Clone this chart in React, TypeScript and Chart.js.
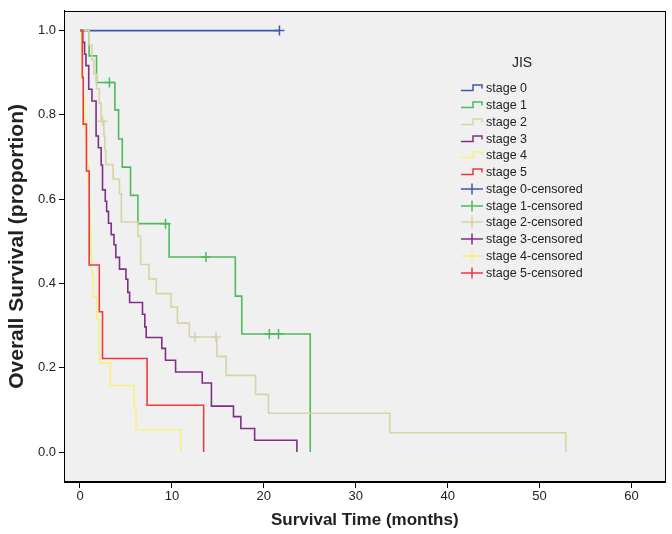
import React, { useEffect, useRef } from "react";
import { Chart, registerables } from "chart.js";

Chart.register(...registerables);

// ---------- data ----------
const xTickValues = [0, 10, 20, 30, 40, 50, 60];
const yTickValues = [0, 0.2, 0.4, 0.6, 0.8, 1.0];

const stageLabels = ["stage 0", "stage 1", "stage 2", "stage 3", "stage 4", "stage 5"];
const stageColors = ["#3e58ac", "#4dbb5c", "#d7d3a5", "#7f2f85", "#f6f17e", "#ee3a3d"];

const stage0Time = [0, 21.7];
const stage0Surv = [1, 1];
const stage0CensorTime = [21.7];
const stage0CensorSurv = [1];

const stage1Time = [0, 1.0, 1.8, 3.8, 4.2, 4.6, 5.5, 6.3, 9.7, 16.9, 17.6, 25.05];
const stage1Surv = [1, 0.94, 0.877, 0.812, 0.743, 0.676, 0.609, 0.542, 0.463, 0.37, 0.28, 0];
const stage1CensorTime = [3.2, 9.3, 13.7, 20.6, 21.6];
const stage1CensorSurv = [0.877, 0.542, 0.463, 0.28, 0.28];

const stage2Time = [0, 1.0, 1.3, 1.5, 1.8, 2.1, 2.3, 2.6, 2.7, 2.8, 3.6, 4.3, 4.5, 6.3, 6.6, 7.5, 8.3, 9.9, 10.6, 11.9, 14.9, 15.9, 19.1, 20.5, 33.7, 52.85];
const stage2Surv = [1, 0.966, 0.931, 0.897, 0.862, 0.828, 0.785, 0.75, 0.716, 0.682, 0.648, 0.613, 0.546, 0.512, 0.445, 0.411, 0.376, 0.344, 0.306, 0.273, 0.227, 0.182, 0.137, 0.092, 0.046, 0];
const stage2CensorTime = [2.45, 12.5, 14.8];
const stage2CensorSurv = [0.785, 0.273, 0.273];

const stage3Time = [0, 0.3, 0.5, 0.65, 0.95, 1.3, 1.75, 2.0, 2.3, 2.45, 2.75, 2.9, 3.1, 3.4, 3.7, 3.9, 4.3, 5.0, 5.2, 5.4, 6.8, 7.05, 7.2, 8.9, 9.3, 10.4, 13.3, 14.3, 16.7, 17.5, 19.0, 23.6];
const stage3Surv = [1, 0.972, 0.944, 0.917, 0.861, 0.833, 0.75, 0.722, 0.681, 0.622, 0.595, 0.571, 0.543, 0.516, 0.492, 0.462, 0.434, 0.41, 0.379, 0.355, 0.327, 0.297, 0.272, 0.246, 0.218, 0.19, 0.164, 0.109, 0.084, 0.056, 0.028, 0];

const stage4Time = [0, 0.15, 0.25, 0.35, 0.5, 0.6, 0.75, 0.9, 1.0, 1.1, 1.2, 1.3, 1.45, 1.8, 2.1, 3.3, 5.9, 6.1, 11.0];
const stage4Surv = [1, 0.947, 0.895, 0.842, 0.789, 0.737, 0.684, 0.632, 0.579, 0.526, 0.474, 0.421, 0.368, 0.316, 0.211, 0.158, 0.105, 0.053, 0];

const stage5Time = [0, 0.25, 0.35, 0.7, 1.0, 2.1, 2.45, 7.3, 13.45];
const stage5Surv = [1, 0.889, 0.778, 0.667, 0.444, 0.333, 0.222, 0.111, 0];

const xTitle = "Survival Time (months)";
const yTitle = "Overall Survival (proportion)";
const legendTitle = "JIS";

// ---------- helpers ----------
const toPoints = (t: number[], s: number[]) => t.map((x, i) => ({ x, y: s[i] }));

const curves = [
  [stage0Time, stage0Surv],
  [stage1Time, stage1Surv],
  [stage2Time, stage2Surv],
  [stage3Time, stage3Surv],
  [stage4Time, stage4Surv],
  [stage5Time, stage5Surv],
];
const censors = [
  [stage0CensorTime, stage0CensorSurv],
  [stage1CensorTime, stage1CensorSurv],
  [stage2CensorTime, stage2CensorSurv],
  [[], []],
  [[], []],
  [[], []],
];

const SANS = '"Liberation Sans", Arial, sans-serif';

const framePlugin = {
  id: "frame",
  beforeDraw(chart: any) {
    const { ctx, chartArea } = chart;
    ctx.save();
    ctx.fillStyle = "#ffffff";
    ctx.fillRect(0, 0, chart.width, chart.height);
    ctx.fillStyle = "#f0f0f0";
    ctx.fillRect(chartArea.left, chartArea.top, chartArea.right - chartArea.left, chartArea.bottom - chartArea.top);
    ctx.restore();
  },
  afterDraw(chart: any) {
    const { ctx, chartArea } = chart;
    ctx.save();
    ctx.strokeStyle = "#000";
    ctx.lineWidth = 1;
    ctx.strokeRect(
      Math.round(chartArea.left) + 0.5,
      Math.round(chartArea.top) + 0.5,
      Math.round(chartArea.right - chartArea.left) - 1,
      Math.round(chartArea.bottom - chartArea.top) - 1
    );
    ctx.restore();
  },
};

function StageIcon({ color, censored }: { color: string; censored: boolean }) {
  return (
    <svg width={24} height={12} style={{ display: "block" }}>
      {censored ? (
        <g stroke={color} strokeWidth={1.5} fill="none">
          <line x1={1} y1={6} x2={23} y2={6} />
          <line x1={12} y1={0.5} x2={12} y2={11.5} />
        </g>
      ) : (
        <polyline points="1,8.5 13,8.5 13,3 22,3 22,6.5" stroke={color} strokeWidth={1.5} fill="none" />
      )}
    </svg>
  );
}

export default function App() {
  const canvasRef = useRef<HTMLCanvasElement | null>(null);

  useEffect(() => {
    if (!canvasRef.current) return;
    const datasets: any[] = [];
    curves.forEach(([t, s], i) => {
      datasets.push({
        label: stageLabels[i],
        data: toPoints(t, s),
        showLine: true,
        stepped: true,
        borderColor: stageColors[i],
        backgroundColor: stageColors[i],
        borderWidth: 1.6,
        pointRadius: 0,
        fill: false,
        order: 6 - i,
      });
    });
    censors.forEach(([t, s], i) => {
      datasets.push({
        label: stageLabels[i] + "-censored",
        data: toPoints(t as number[], s as number[]),
        showLine: false,
        pointStyle: "cross",
        pointRadius: 5,
        borderWidth: 1.5,
        borderColor: stageColors[i],
        backgroundColor: stageColors[i],
        order: 0,
      });
    });

    const chart = new Chart(canvasRef.current, {
      type: "scatter",
      data: { datasets },
      options: {
        animation: false,
        responsive: false,
        layout: { padding: { left: 0, top: 10, right: 5, bottom: 0 } },
        plugins: { legend: { display: false }, tooltip: { enabled: false } },
        scales: {
          x: {
            type: "linear",
            min: -1.74,
            max: 63.7,
            afterBuildTicks: (scale: any) => {
              scale.ticks = xTickValues.map((v) => ({ value: v }));
            },
            afterFit: (scale: any) => {
              scale.height = 52;
            },
            grid: { display: true, drawOnChartArea: false, drawTicks: true, tickLength: 6, color: "#000" },
            border: { display: true, color: "#000" },
            ticks: {
              padding: 1,
              color: "#222",
              font: { family: SANS, size: 13 },
              maxRotation: 0,
              callback: (v: any) => String(v),
            },
            title: {
              display: true,
              text: xTitle,
              color: "#222",
              font: { family: SANS, size: 17, weight: "bold" },
              padding: { top: 0, bottom: 3 },
            },
          },
          y: {
            type: "linear",
            min: -0.071,
            max: 1.047,
            afterBuildTicks: (scale: any) => {
              scale.ticks = yTickValues.map((v) => ({ value: v }));
            },
            afterFit: (scale: any) => {
              scale.width = 64;
            },
            grid: { display: true, drawOnChartArea: false, drawTicks: true, tickLength: 5, color: "#000" },
            border: { display: true, color: "#000" },
            ticks: {
              padding: 3,
              color: "#222",
              font: { family: SANS, size: 13 },
              callback: (v: any) => Number(v).toFixed(1),
            },
            title: {
              display: true,
              text: yTitle,
              color: "#222",
              font: { family: SANS, size: 21, weight: "bold" },
              padding: { top: 5, bottom: 0 },
            },
          },
        },
      } as any,
      plugins: [framePlugin],
    });
    return () => chart.destroy();
  }, []);

  const legendRows: { label: string; color: string; censored: boolean }[] = [];
  stageLabels.forEach((l, i) => legendRows.push({ label: l, color: stageColors[i], censored: false }));
  stageLabels.forEach((l, i) => legendRows.push({ label: l + "-censored", color: stageColors[i], censored: true }));

  return (
    <div style={{ position: "absolute", left: 0, top: 0, width: 672, height: 534, background: "#fff", overflow: "hidden" }}>
      <canvas ref={canvasRef} width={672} height={534} style={{ position: "absolute", left: 0, top: 0, width: 672, height: 534 }} />
      <div
        style={{
          position: "absolute",
          left: 482,
          top: 52,
          width: 80,
          textAlign: "center",
          fontFamily: SANS,
          fontSize: 14,
          lineHeight: "20px",
          color: "#222",
        }}
      >
        {legendTitle}
      </div>
      <div style={{ position: "absolute", left: 460, top: 79.9 }}>
        {legendRows.map((r, i) => (
          <div key={i} style={{ display: "flex", alignItems: "center", height: 16.76 }}>
            <StageIcon color={r.color} censored={r.censored} />
            <span
              style={{
                marginLeft: 2,
                fontFamily: SANS,
                fontSize: 12.5,
                lineHeight: "16px",
                color: "#222",
                whiteSpace: "nowrap",
              }}
            >
              {r.label}
            </span>
          </div>
        ))}
      </div>
    </div>
  );
}
